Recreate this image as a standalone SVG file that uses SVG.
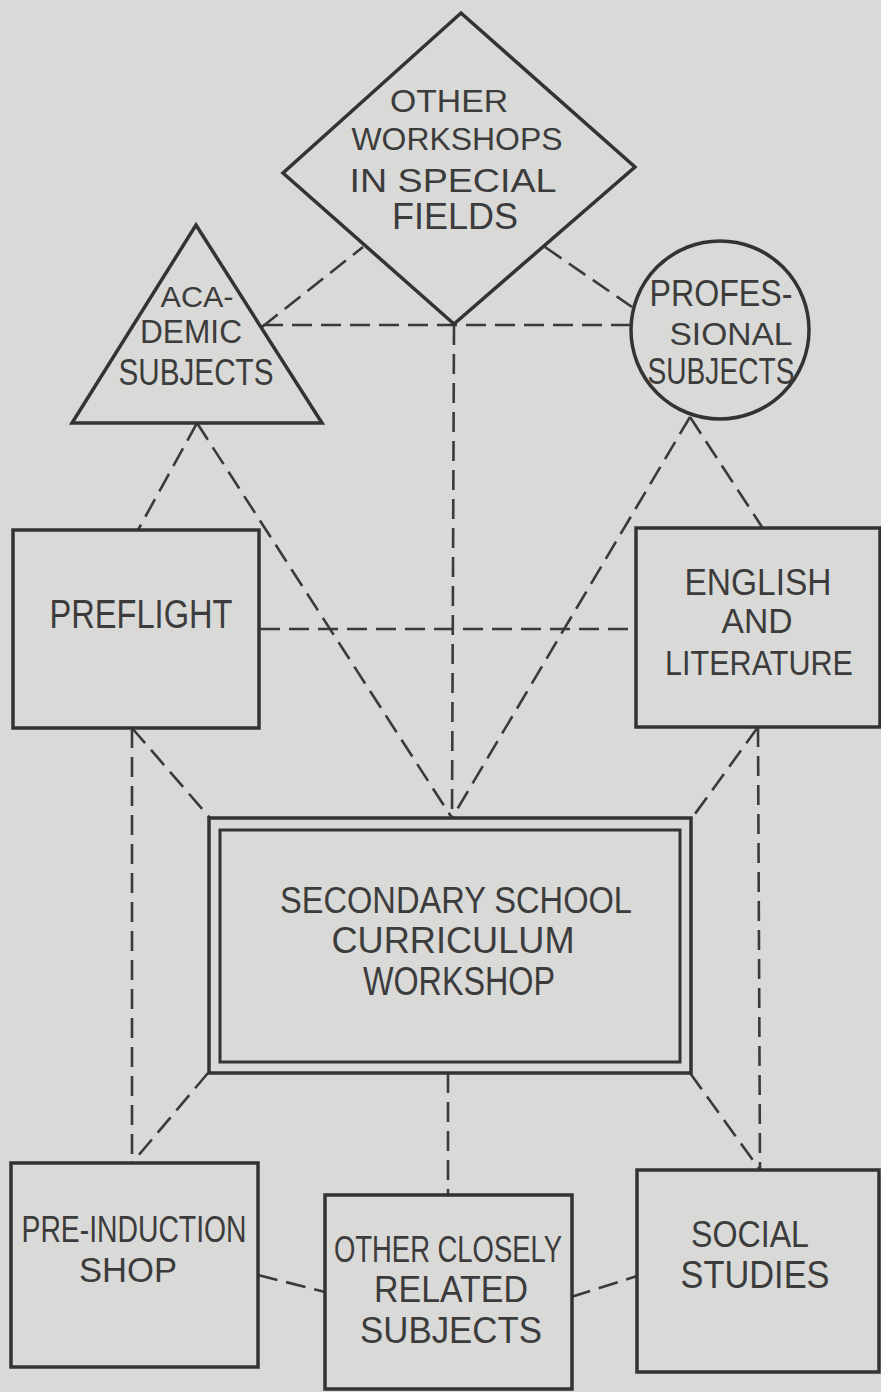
<svg xmlns="http://www.w3.org/2000/svg" width="881" height="1392" viewBox="0 0 881 1392">
<defs>
<style>
.shape{fill:#d9d9d7;stroke:#333;stroke-width:3.5;stroke-linejoin:miter}
.inner{fill:none;stroke:#333;stroke-width:3}
.dash{fill:none;stroke:#3a3a3a;stroke-width:2.6;stroke-dasharray:20 9}
text{font-family:"Liberation Sans","DejaVu Sans",sans-serif;fill:#3c3c3c;text-anchor:middle;font-weight:normal}
</style>
</defs>
<rect x="0" y="0" width="881" height="1392" fill="#d9d9d7"/>
<g id="connectors">
<line class="dash" x1="262" y1="327" x2="363" y2="247"/>
<line class="dash" x1="263" y1="325" x2="630" y2="325"/>
<line class="dash" x1="545" y1="247" x2="632" y2="307"/>
<line class="dash" x1="454" y1="325" x2="452" y2="818"/>
<line class="dash" x1="197" y1="423" x2="138" y2="530"/>
<line class="dash" x1="197" y1="423" x2="452" y2="818"/>
<line class="dash" x1="690" y1="417" x2="452" y2="818"/>
<line class="dash" x1="690" y1="417" x2="762" y2="527"/>
<line class="dash" x1="260" y1="629" x2="636" y2="629"/>
<line class="dash" x1="132" y1="728" x2="132" y2="1163"/>
<line class="dash" x1="132" y1="728" x2="210" y2="818"/>
<line class="dash" x1="758" y1="727" x2="692" y2="818"/>
<line class="dash" x1="758" y1="727" x2="760" y2="1170"/>
<line class="dash" x1="208" y1="1073" x2="132" y2="1163"/>
<line class="dash" x1="448" y1="1073" x2="448" y2="1195"/>
<line class="dash" x1="690" y1="1073" x2="760" y2="1170"/>
<line class="dash" x1="258" y1="1275" x2="325" y2="1292"/>
<line class="dash" x1="571" y1="1297" x2="637" y2="1276"/>
</g>
<g id="other-workshops">
<polygon class="shape" points="461,13 635,167 454,324 283,173"/>
<text x="449" y="112" font-size="31" textLength="118" lengthAdjust="spacingAndGlyphs">OTHER</text>
<text x="457" y="150" font-size="31" textLength="211" lengthAdjust="spacingAndGlyphs">WORKSHOPS</text>
<text x="453" y="192" font-size="34" textLength="207" lengthAdjust="spacingAndGlyphs">IN  SPECIAL</text>
<text x="455" y="229" font-size="36" textLength="126" lengthAdjust="spacingAndGlyphs">FIELDS</text>
</g>
<g id="academic-subjects">
<polygon class="shape" points="196,225 322,423 72,423"/>
<text x="197" y="307" font-size="29" textLength="73" lengthAdjust="spacingAndGlyphs">ACA-</text>
<text x="191" y="343" font-size="33" textLength="102" lengthAdjust="spacingAndGlyphs">DEMIC</text>
<text x="196" y="385" font-size="36" textLength="155" lengthAdjust="spacingAndGlyphs">SUBJECTS</text>
</g>
<g id="professional-subjects">
<circle class="shape" cx="720" cy="330" r="89"/>
<text x="721" y="306" font-size="36" textLength="143" lengthAdjust="spacingAndGlyphs">PROFES-</text>
<text x="731" y="345" font-size="32" textLength="123" lengthAdjust="spacingAndGlyphs">SIONAL</text>
<text x="721" y="384" font-size="36" textLength="147" lengthAdjust="spacingAndGlyphs">SUBJECTS</text>
</g>
<g id="preflight">
<rect class="shape" x="13" y="530" width="246" height="198"/>
<text x="141" y="628" font-size="40" textLength="183" lengthAdjust="spacingAndGlyphs">PREFLIGHT</text>
</g>
<g id="english">
<rect class="shape" x="636" y="528" width="244" height="199"/>
<text x="758" y="595" font-size="37" textLength="147" lengthAdjust="spacingAndGlyphs">ENGLISH</text>
<text x="757" y="633" font-size="35" textLength="71" lengthAdjust="spacingAndGlyphs">AND</text>
<text x="759" y="675" font-size="35" textLength="188" lengthAdjust="spacingAndGlyphs">LITERATURE</text>
</g>
<g id="secondary-school">
<rect class="shape" x="209" y="818" width="482" height="255"/>
<rect class="inner" x="220" y="830" width="460" height="232"/>
<text x="456" y="913" font-size="36" textLength="352" lengthAdjust="spacingAndGlyphs">SECONDARY SCHOOL</text>
<text x="453" y="953" font-size="36" textLength="243" lengthAdjust="spacingAndGlyphs">CURRICULUM</text>
<text x="459" y="995" font-size="40" textLength="192" lengthAdjust="spacingAndGlyphs">WORKSHOP</text>
</g>
<g id="pre-induction">
<rect class="shape" x="11" y="1163" width="247" height="204"/>
<text x="134" y="1242" font-size="36" textLength="225" lengthAdjust="spacingAndGlyphs">PRE-INDUCTION</text>
<text x="128" y="1282" font-size="35" textLength="98" lengthAdjust="spacingAndGlyphs">SHOP</text>
</g>
<g id="other-closely">
<rect class="shape" x="325" y="1195" width="247" height="194"/>
<text x="448" y="1262" font-size="36" textLength="228" lengthAdjust="spacingAndGlyphs">OTHER CLOSELY</text>
<text x="451" y="1302" font-size="37" textLength="154" lengthAdjust="spacingAndGlyphs">RELATED</text>
<text x="451" y="1343" font-size="37" textLength="182" lengthAdjust="spacingAndGlyphs">SUBJECTS</text>
</g>
<g id="social-studies">
<rect class="shape" x="637" y="1170" width="242" height="202"/>
<text x="750" y="1247" font-size="37" textLength="118" lengthAdjust="spacingAndGlyphs">SOCIAL</text>
<text x="755" y="1288" font-size="38" textLength="149" lengthAdjust="spacingAndGlyphs">STUDIES</text>
</g>
</svg>
